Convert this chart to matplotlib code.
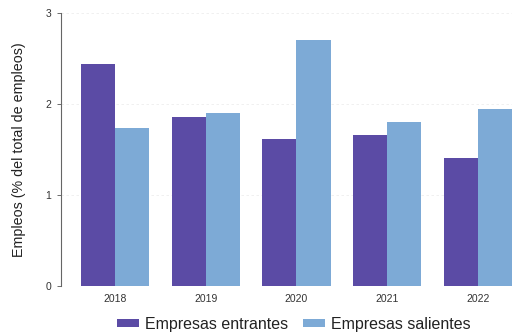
import matplotlib
matplotlib.use("Agg")
import matplotlib.pyplot as plt
import numpy as np

years = ["2018", "2019", "2020", "2021", "2022"]
entrantes = [2.44, 1.86, 1.62, 1.66, 1.41]
salientes = [1.74, 1.90, 2.70, 1.80, 1.95]
yticks = [0, 1, 2, 3]

plt.rcParams['font.family'] = ['Liberation Sans', 'DejaVu Sans']

fig = plt.figure(figsize=(5.12, 3.36), dpi=100)
ax = fig.add_axes([61/512, 1 - 286/336, (512-61)/512, (286-13)/336])

x = np.arange(len(years))
w = 0.375
c1 = "#5B4BA5"
c2 = "#7DAAD6"
ax.bar(x - w/2, entrantes, width=w, color=c1, label="Empresas entrantes")
ax.bar(x + w/2, salientes, width=w, color=c2, label="Empresas salientes")

ax.set_xlim(-0.595, 4.375)
ax.set_ylim(0, 3)
ax.set_yticks(yticks)
ax.set_yticklabels([str(t) for t in yticks])
ax.set_xticks(x)
ax.set_xticklabels(years)
ax.tick_params(axis='x', length=0, labelsize=7.5, colors="#333333", pad=6)
ax.tick_params(axis='y', length=3, width=0.6, labelsize=7.5, colors="#555555", labelcolor="#333333", pad=4)
for s in ["top", "right", "bottom"]:
    ax.spines[s].set_visible(False)
ax.spines["left"].set_color("#666666")
ax.spines["left"].set_linewidth(0.8)
ax.yaxis.grid(True, color="#eeeeee", linewidth=0.6, linestyle=(0, (3, 3)))
ax.set_axisbelow(True)

ax.set_ylabel("Empleos (% del total de empleos)", fontsize=10.3, color="#222222", labelpad=14)

fig.legend(loc="center", bbox_to_anchor=(0.574, 1 - 324/336), ncol=2, frameon=False,
           fontsize=11.5, handlelength=1.375, handleheight=0.45, columnspacing=0.9,
           handletextpad=0.4, labelcolor="#222222")

fig.savefig("out.png", dpi=100)
